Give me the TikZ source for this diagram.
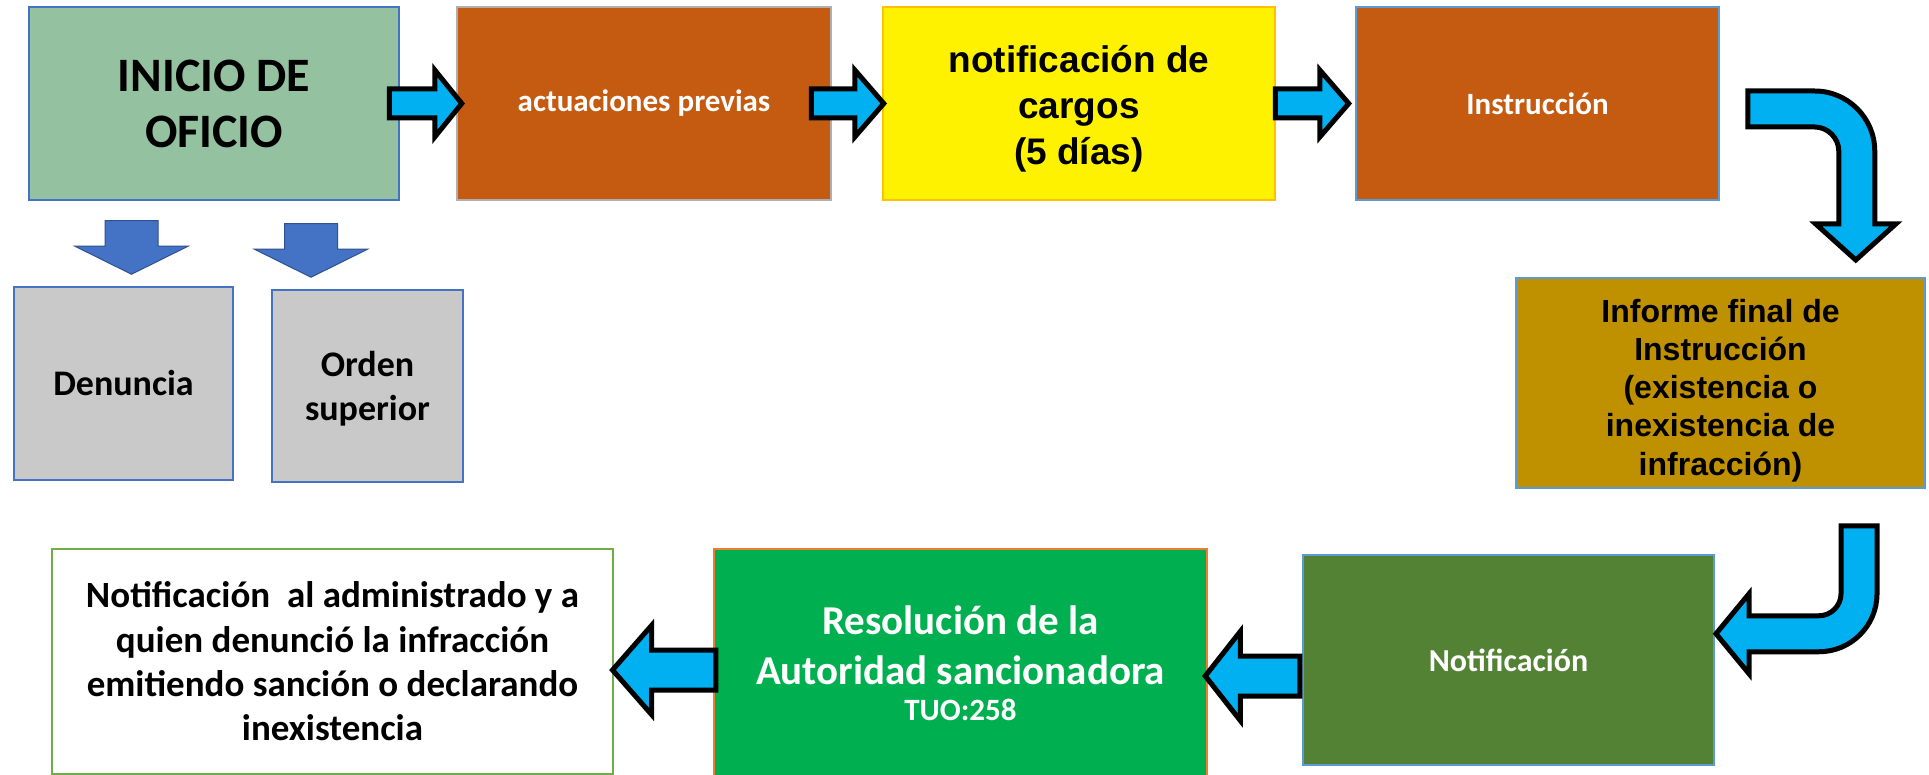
\documentclass[tikz,border=0pt]{standalone}
\usepackage{fontspec}
\setmainfont{Carlito}
\newfontfamily\arialf{Liberation Sans}
\usetikzlibrary{calc}
\definecolor{inigreen}{RGB}{148,193,160}
\definecolor{rust}{RGB}{197,90,17}
\definecolor{gold}{RGB}{191,144,0}
\definecolor{olivegr}{RGB}{84,130,53}
\definecolor{brightgreen}{RGB}{0,176,80}
\definecolor{grayfill}{RGB}{201,201,201}
\definecolor{bordblue}{RGB}{68,114,196}
\definecolor{lightblue}{RGB}{91,155,213}
\definecolor{cyanarrow}{RGB}{0,176,240}
\definecolor{darkblue}{RGB}{47,82,143}
\definecolor{ylwborder}{RGB}{255,192,0}
\definecolor{orangeborder}{RGB}{237,125,49}
\definecolor{greenborder}{RGB}{112,173,71}
\definecolor{grayborder}{RGB}{175,175,175}
\tikzset{
  box/.style={draw, line width=1.5pt, inner sep=0pt, align=center, font=\bfseries},
  barrow/.style={draw=black, fill=cyanarrow, line width=5pt, line join=miter, miter limit=10},
  darrowsty/.style={draw=darkblue, fill=bordblue, line width=1pt}
}
% right-pointing block arrow: tail, tip, shaft half, head half, head length
\newcommand{\rblock}[5]{%
  \draw[barrow] let \p1=#1, \p2=#2 in
    (\x1,\y2+#3) -- (\x2-#5,\y2+#3) -- (\x2-#5,\y2+#4) -- (\x2,\y2)
    -- (\x2-#5,\y2-#4) -- (\x2-#5,\y2-#3) -- (\x1,\y2-#3) -- cycle;}
% left-pointing block arrow
\newcommand{\lblock}[5]{%
  \draw[barrow] let \p1=#1, \p2=#2 in
    (\x1,\y2+#3) -- (\x2+#5,\y2+#3) -- (\x2+#5,\y2+#4) -- (\x2,\y2)
    -- (\x2+#5,\y2-#4) -- (\x2+#5,\y2-#3) -- (\x1,\y2-#3) -- cycle;}
% down-pointing block arrow: top point, tip
\newcommand{\dblock}[5]{%
  \draw[darrowsty] let \p1=#1, \p2=#2 in
    (\x2-#3,\y1) -- (\x2+#3,\y1) -- (\x2+#3,\y2+#5) -- (\x2+#4,\y2+#5) -- (\x2,\y2)
    -- (\x2-#4,\y2+#5) -- (\x2-#3,\y2+#5) -- cycle;}
\begin{document}
\begin{tikzpicture}[x=1pt,y=-1pt]
\useasboundingbox (0,0) rectangle (1929,775);
\fill[white] (0,0) rectangle (1929,775);

% top row
\node[box, draw=bordblue, fill=inigreen, minimum width=370pt, minimum height=193pt,
      font=\bfseries\fontsize{48}{56}\selectfont] (inicio) at (214,103.5) {INICIO DE\\OFICIO};
\node[box, draw=grayborder, fill=rust, text=white, minimum width=374pt, minimum height=193pt,
      font=\bfseries\fontsize{31}{37}\selectfont] (act) at (644,103.5) {actuaciones previas};
\node[box, draw=ylwborder, fill=yellow, minimum width=392pt, minimum height=193pt,
      font=\arialf\bfseries\fontsize{37}{46}\selectfont] (yel) at (1079,103.5)
      {\rule{0pt}{38pt}notificación de\\cargos\\(5 días)};
\node[box, draw=lightblue, fill=rust, text=white, minimum width=363pt, minimum height=193pt,
      font=\bfseries\fontsize{31}{37}\selectfont] (ins) at (1537.5,103.5) {Instrucción};

% left sub-boxes
\node[box, draw=bordblue, fill=grayfill, minimum width=219pt, minimum height=193pt,
      font=\bfseries\fontsize{36}{43}\selectfont] (den) at (123.5,383.5) {Denuncia};
\node[box, draw=bordblue, fill=grayfill, minimum width=191pt, minimum height=192pt,
      font=\bfseries\fontsize{36}{44}\selectfont] (ord) at (367.5,386) {\rule{0pt}{30pt}Orden\\superior};

% right column
\node[box, draw=lightblue, fill=gold, minimum width=409pt, minimum height=210pt,
      font=\arialf\bfseries\fontsize{32}{38.3}\selectfont] (inf) at (1720.5,383)
      {\rule{0pt}{38pt}Informe final de\\Instrucción\\(existencia o\\inexistencia de\\infracción)};

% bottom row
\node[box, draw=lightblue, fill=olivegr, text=white, minimum width=411pt, minimum height=210pt,
      font=\bfseries\fontsize{32}{38}\selectfont] (notif) at (1508.5,660) {Notificación};
\node[box, draw=orangeborder, fill=brightgreen, text=white, minimum width=493pt, minimum height=228pt,
      font=\bfseries\fontsize{41}{50}\selectfont] (resol) at (960.5,663)
      {Resolución de la\\Autoridad sancionadora\\[-14pt]{\fontsize{31}{36}\selectfont TUO:258}};
\node[box, draw=greenborder, line width=2pt, fill=white, minimum width=561pt, minimum height=225pt,
      font=\bfseries\fontsize{37}{44.4}\selectfont] (fin) at (332.5,661.5)
      {Notificación~ al administrado y a\\quien denunció la infracción\\emitiendo sanción o declarando\\inexistencia};

% straight block arrows
\rblock{($(inicio.east)+(-10.5,0)$)}{($(act.west)+(5.5,0)$)}{14.5pt}{33.5pt}{27pt}
\rblock{($(act.east)+(-20.5,0)$)}{($(yel.west)+(1.5,0)$)}{14.5pt}{33.5pt}{29pt}
\rblock{($(yel.east)+(-0.5,0)$)}{($(ins.west)+(-6.5,0)$)}{14.5pt}{33.5pt}{29pt}
\lblock{($(notif.west)+(-2.5,16)$)}{($(resol.east)+(-2.5,13)$)}{20pt}{44.5pt}{35pt}
\lblock{($(resol.west)+(2.5,0)$)}{($(fin.east)+(-1.5,8.5)$)}{20pt}{44.5pt}{39pt}

% down arrows to sub-boxes
\dblock{($(inicio.south)+(0,20)$)}{($(den.north)+(8,-12)$)}{26.5pt}{56.5pt}{28pt}
\dblock{($(inicio.south)+(0,23)$)}{($(ord.north)+(-56.5,-12)$)}{26.5pt}{56.5pt}{28pt}

% bent arrow Instruccion -> Informe
\begin{scope}[shift={(ins.east)}]
\draw[barrow] (28,-12.5) -- (95,-12.5) .. controls (128,-12.5) and (155,14.5) .. (155,47.5)
  -- (155,120.5) -- (176,120.5) -- (136,156.5) -- (96,120.5) -- (119,120.5) -- (119,47.5)
  .. controls (119,34.5) and (108,23.5) .. (95,23.5) -- (28,23.5) -- cycle;
\end{scope}

% bent arrow Informe -> Notificacion
\begin{scope}[shift={(inf.south)}]
\draw[barrow] (120.5,37) -- (156.5,37) -- (156.5,105) .. controls (156.5,137) and (130.5,163) .. (98.5,163)
  -- (28.5,163) -- (28.5,185) -- (-4.5,145) -- (28.5,105) -- (28.5,127) -- (98.5,127)
  .. controls (110.5,127) and (120.5,117) .. (120.5,105) -- cycle;
\end{scope}
\end{tikzpicture}
\end{document}
